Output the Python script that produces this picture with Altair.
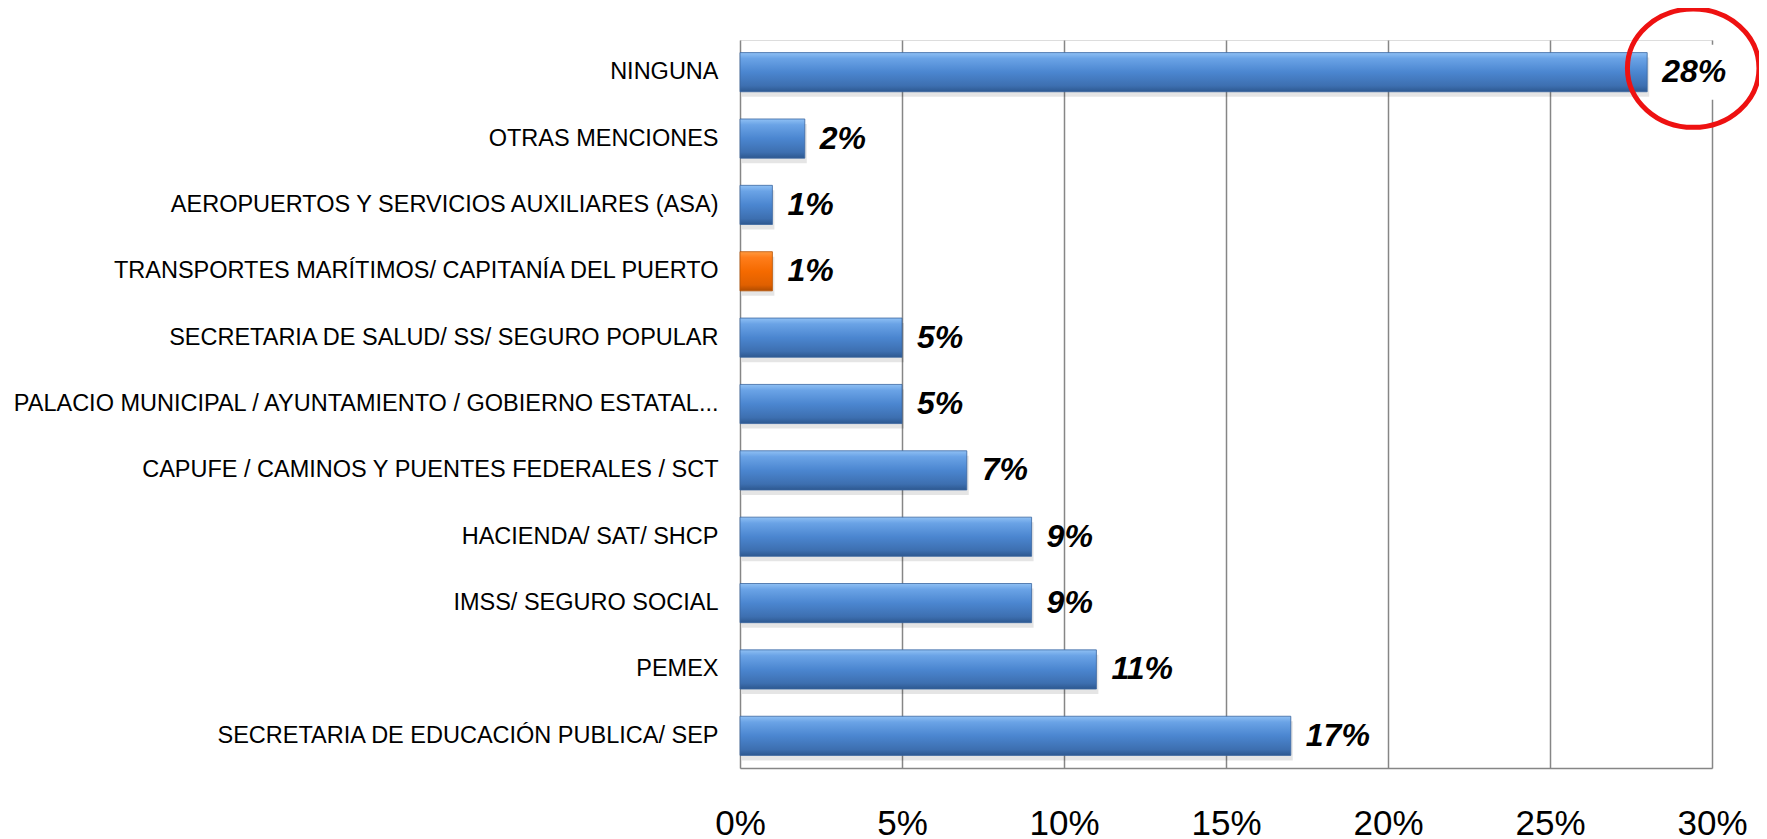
import altair as alt
import pandas as pd

categories = [
    "NINGUNA",
    "OTRAS MENCIONES",
    "AEROPUERTOS Y SERVICIOS AUXILIARES  (ASA)",
    "TRANSPORTES MARÍTIMOS/ CAPITANÍA DEL PUERTO",
    "SECRETARIA DE SALUD/ SS/ SEGURO POPULAR",
    "PALACIO MUNICIPAL / AYUNTAMIENTO / GOBIERNO ESTATAL...",
    "CAPUFE / CAMINOS Y PUENTES FEDERALES / SCT",
    "HACIENDA/ SAT/ SHCP",
    "IMSS/ SEGURO SOCIAL",
    "PEMEX",
    "SECRETARIA DE EDUCACIÓN PUBLICA/ SEP",
]
values = [28, 2, 1, 1, 5, 5, 7, 9, 9, 11, 17]
highlight = [False, False, False, True, False, False, False, False, False, False, False]
circled = [True, False, False, False, False, False, False, False, False, False, False]
x_ticks = [0, 5, 10, 15, 20, 25, 30]

df = pd.DataFrame({"cat": categories, "value": values, "hl": highlight, "circ": circled})
df["label"] = df["value"].astype(str) + "%"

FONT = "Liberation Sans, Arial, sans-serif"

blue_grad = alt.Gradient(
    gradient="linear", x1=0, x2=0, y1=0, y2=1,
    stops=[
        alt.GradientStop(offset=0, color="#8fc0f4"),
        alt.GradientStop(offset=0.15, color="#6aa3e6"),
        alt.GradientStop(offset=0.5, color="#4b86d0"),
        alt.GradientStop(offset=0.85, color="#3d6fb0"),
        alt.GradientStop(offset=1, color="#2d5890"),
    ],
)
orange_grad = alt.Gradient(
    gradient="linear", x1=0, x2=0, y1=0, y2=1,
    stops=[
        alt.GradientStop(offset=0, color="#ff9a40"),
        alt.GradientStop(offset=0.15, color="#ff7d1a"),
        alt.GradientStop(offset=0.5, color="#f56a00"),
        alt.GradientStop(offset=0.85, color="#e06000"),
        alt.GradientStop(offset=1, color="#b04c00"),
    ],
)

y_enc = alt.Y(
    "cat:N", sort=categories, title=None,
    scale=alt.Scale(paddingInner=0.41, paddingOuter=0.19),
    axis=alt.Axis(
        labelFont=FONT, labelFontSize=23.5, labelColor="#000000", labelPadding=22,
        ticks=False, domain=False, labelLimit=800,
    ),
)
x_enc = alt.X(
    "value:Q", title=None,
    scale=alt.Scale(domain=[0, 30], nice=False),
    axis=alt.Axis(
        values=x_ticks, labelExpr="datum.value + '%'", labelFont=FONT,
        labelFontSize=35, labelColor="#000000", labelPadding=38, ticks=False,
        labelFlush=False, labelOverlap=False,
        grid=True, gridColor="#868686", gridWidth=1.5,
        domain=True, domainColor="#868686", domainWidth=1.5,
    ),
)

base = alt.Chart(df)

shadow = base.mark_bar(color="#000000", opacity=0.10, yOffset=5, xOffset=2).encode(x=x_enc, y=y_enc)
bars_blue = base.transform_filter("!datum.hl").mark_bar(
    color=blue_grad, stroke="#3a66a0", strokeWidth=0.8
).encode(x=x_enc, y=y_enc)
bars_orange = base.transform_filter("datum.hl").mark_bar(
    color=orange_grad, stroke="#b85200", strokeWidth=0.8
).encode(x=x_enc, y=y_enc)

# white patch behind the circled label (hides the gridline as in the reference)
label_bg = base.transform_filter("datum.circ").transform_calculate(
    x0="datum.value + 0.35", x1="datum.value + 2.6"
).mark_bar(color="#ffffff", height=55).encode(
    x=alt.X("x0:Q", scale=alt.Scale(domain=[0, 30], nice=False)), x2="x1:Q", y=y_enc
)

labels = base.mark_text(
    align="left", baseline="middle", dx=15, font=FONT, fontSize=32,
    fontWeight="bold", fontStyle="italic", color="#000000",
).encode(x=x_enc, y=y_enc, text="label:N")

ellipse = base.transform_filter("datum.circ").mark_point(
    shape="M -1 0 A 1 0.9 0 1 0 1 0 A 1 0.9 0 1 0 -1 0",
    size=17300, filled=False, stroke="#ee1111", strokeWidth=5, opacity=1,
    xOffset=46, yOffset=-4, clip=False,
).encode(x=x_enc, y=y_enc)

chart = alt.layer(shadow, bars_blue, bars_orange, label_bg, labels, ellipse).properties(
    width=972, height=728,
    autosize=alt.AutoSizeParams(type="none"),
    padding={"left": 732, "top": 32, "right": 47, "bottom": 76},
).configure_view(stroke=None).configure(background="#ffffff")

chart.save("out.html", embed_options={"renderer": "svg", "actions": False})
